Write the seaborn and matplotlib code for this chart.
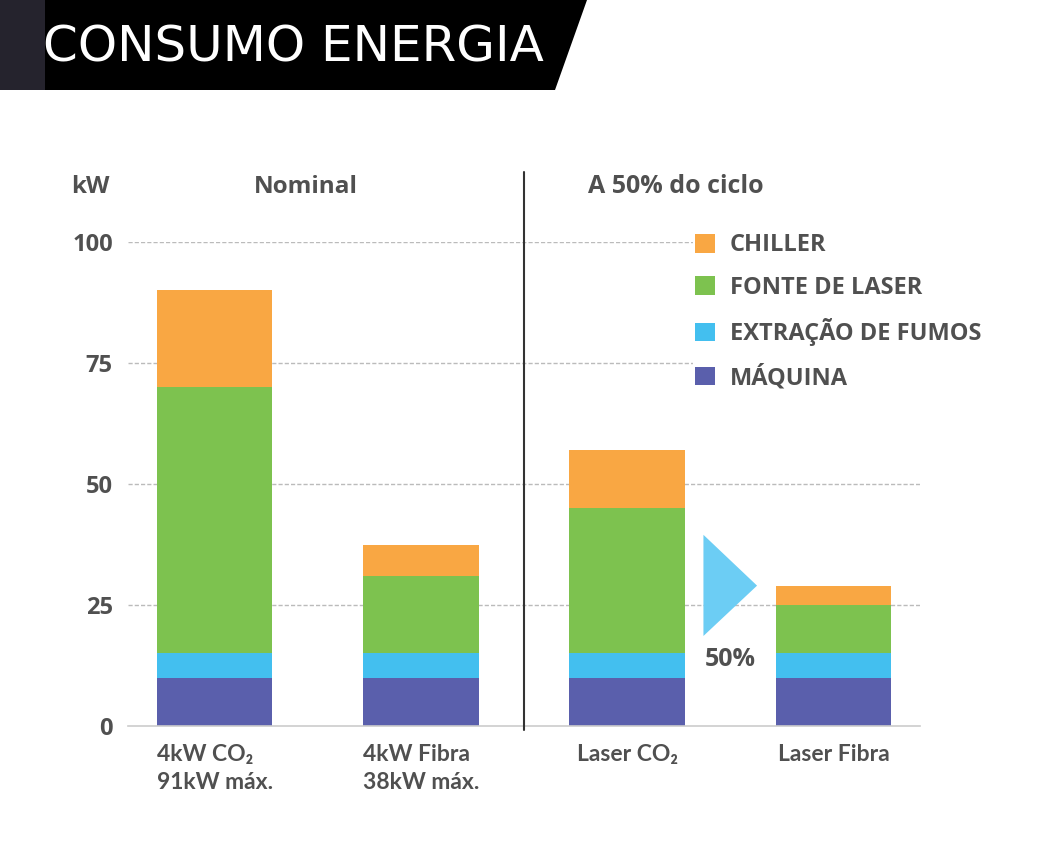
import matplotlib
matplotlib.use("Agg")
import matplotlib.pyplot as plt
from matplotlib.patches import Polygon, Patch
import seaborn as sns
import pandas as pd
import numpy as np

# data (kW)
categories = ["4kW CO₂\n91kW máx.", "4kW Fibra\n38kW máx.", "Laser CO₂", "Laser Fibra"]
maquina = [10, 10, 10, 10]
extracao = [5, 5, 5, 5]
fonte_laser = [55, 16, 30, 10]
chiller = [20, 6.5, 12, 4]
layers = ["MÁQUINA", "EXTRAÇÃO DE FUMOS", "FONTE DE LASER", "CHILLER"]
colors = {"MÁQUINA": "#5a5fac", "EXTRAÇÃO DE FUMOS": "#43bfef",
          "FONTE DE LASER": "#7dc24f", "CHILLER": "#f9a743"}
y_ticks = [0, 25, 50, 75, 100]
headers = ["Nominal", "A 50% do ciclo"]

sns.set_theme(style="white")
plt.rcParams["font.family"] = ["Open Sans", "DejaVu Sans"]
txt = "#505050"
lato = ["Lato", "DejaVu Sans"]

W, H = 1051, 860
fig = plt.figure(figsize=(W / 100, H / 100), dpi=100)
ax = fig.add_axes([128 / W, 1 - 726 / H, 792 / W, 484 / H])

# cumulative totals, drawn from the top layer down so they stack
df = pd.DataFrame({"cat": categories, "MÁQUINA": maquina, "EXTRAÇÃO DE FUMOS": extracao,
                   "FONTE DE LASER": fonte_laser, "CHILLER": chiller})
cum = df[layers].cumsum(axis=1)
for layer in reversed(layers):
    sns.barplot(x=df["cat"], y=cum[layer], color=colors[layer], width=0.56,
                saturation=1, ax=ax, zorder=2, edgecolor="none", linewidth=0)

ax.set_xlim(-0.42, 3.42)
ax.set_ylim(0, 100)
ax.set_yticks(y_ticks)
ax.set_yticklabels([str(t) for t in y_ticks], fontsize=17, fontweight="bold", color=txt)
ax.tick_params(axis="y", length=0, pad=11)
ax.tick_params(axis="x", length=0, pad=13)
for lab in ax.get_xticklabels():
    lab.set_fontfamily(lato)
    lab.set_fontsize(16.5)
    lab.set_fontweight("bold")
    lab.set_color(txt)
    lab.set_multialignment("left")
    lab.set_linespacing(1.4)
    lab.set_verticalalignment("top")
ax.set_xlabel("")
ax.set_ylabel("")

for t in y_ticks[1:]:
    ax.axhline(t, color="#bbbbbb", lw=1, ls=(0, (3, 1.5)), zorder=0)
for s in ["top", "right", "left"]:
    ax.spines[s].set_visible(False)
ax.spines["bottom"].set_color("#cccccc")
ax.spines["bottom"].set_linewidth(1.2)

# divider between groups
ax.plot([1.5, 1.5], [-0.8, 114.5], color="#333333", lw=1.5, clip_on=False, zorder=3)

ax.text(0.44, 111.4, headers[0], ha="center", va="center", fontsize=17.5,
        fontweight="bold", color=txt, clip_on=False)
ax.text(2.235, 111.4, headers[1], ha="center", va="center", fontsize=18,
        fontweight="bold", color=txt, clip_on=False)
fig.text(90 / W, 1 - 187 / H, "kW", ha="center", va="center", fontsize=17.5,
         fontweight="bold", color=txt)

# 50% arrow
ax.add_patch(Polygon([[2.37, 39.5], [2.37, 18.6], [2.63, 29.0]], closed=True,
                     facecolor="#6ccdf4", edgecolor="none", zorder=3))
ax.text(2.5, 13.8, "50%", ha="center", va="center", fontsize=18,
        fontweight="bold", color=txt)

handles = [Patch(facecolor=colors[l], edgecolor="none") for l in reversed(layers)]
leg = fig.legend(handles, list(reversed(layers)), loc="upper left",
                 bbox_to_anchor=(693 / W, 1 - 231 / H), borderaxespad=0, borderpad=0.1,
                 frameon=True, framealpha=1, facecolor="white", edgecolor="none",
                 handlelength=0.85, handleheight=0.85, handletextpad=0.6,
                 labelspacing=0.78, prop={"family": ["Open Sans", "DejaVu Sans"],
                                          "weight": "bold", "size": 17})
for t in leg.get_texts():
    t.set_color(txt)

# title banner
fig.add_artist(Polygon([[0, 1], [45 / W, 1], [45 / W, 1 - 90 / H], [0, 1 - 90 / H]],
                       closed=True, transform=fig.transFigure, facecolor="#25232d",
                       edgecolor="none"))
fig.add_artist(Polygon([[45 / W, 1], [587 / W, 1], [555 / W, 1 - 90 / H], [45 / W, 1 - 90 / H]],
                       closed=True, transform=fig.transFigure, facecolor="black",
                       edgecolor="none"))
fig.text(43 / W, 1 - 48 / H, "CONSUMO ENERGIA", ha="left", va="center", fontsize=36,
         color="white", fontfamily=["DejaVu Sans"])

fig.savefig("out.png", dpi=100, facecolor="white")
